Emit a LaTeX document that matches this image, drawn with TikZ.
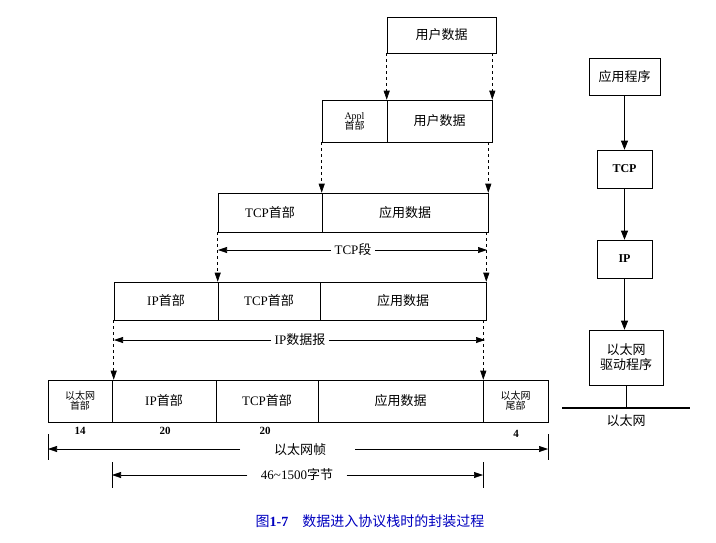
\documentclass[tikz,border=0pt]{standalone}
\usepackage{fontspec}
\setmainfont{Liberation Serif}
\newfontfamily\cjk{Noto Sans CJK SC}
\usetikzlibrary{arrows.meta}
\begin{document}
\begin{tikzpicture}[x=1pt,y=-1pt,
  bx/.style={draw,line width=0.6pt,inner sep=0pt,font=\fontsize{13}{15}\selectfont},
  sm/.style={font=\fontsize{10}{11}\selectfont,align=center},
  dsh/.style={dashed,line width=0.6pt,-{Triangle[length=9pt,width=6pt]}},
  dim/.style={line width=0.6pt,-{Triangle[length=9pt,width=6pt]}},
  ar/.style={line width=0.8pt,-{Triangle[length=9pt,width=7pt]}},
  lbl/.style={font=\fontsize{13}{15}\selectfont},
  num/.style={font=\bfseries\fontsize{11}{13}\selectfont}]
\useasboundingbox (0,0) rectangle (716,542);
% row1
\node[bx,minimum width=109,minimum height=36] (u1) at (441.5,35) {\cjk 用户数据};
% row2
\node[bx,minimum width=65,minimum height=42,sm] (ap) at (354.5,121) {Appl\\[-1pt]{\cjk 首部}};
\node[bx,minimum width=105,minimum height=42] (u2) at (439.5,121) {\cjk 用户数据};
% row3
\node[bx,minimum width=104,minimum height=39] (t3) at (270,212.5) {TCP{\cjk 首部}};
\node[bx,minimum width=166,minimum height=39] (d3) at (405,212.5) {\cjk 应用数据};
% row4
\node[bx,minimum width=104,minimum height=38] (i4) at (166,301) {IP{\cjk 首部}};
\node[bx,minimum width=102,minimum height=38] (t4) at (269,301) {TCP{\cjk 首部}};
\node[bx,minimum width=166,minimum height=38] (d4) at (403,301) {\cjk 应用数据};
% row5
\node[bx,minimum width=64,minimum height=42,sm] (e5) at (80,401) {\cjk 以太网\\[-1pt]\cjk 首部};
\node[bx,minimum width=104,minimum height=42] (i5) at (164,401) {IP{\cjk 首部}};
\node[bx,minimum width=102,minimum height=42] (t5) at (267,401) {TCP{\cjk 首部}};
\node[bx,minimum width=165,minimum height=42] (d5) at (400.5,401) {\cjk 应用数据};
\node[bx,minimum width=65,minimum height=42,sm] (f5) at (515.5,401) {\cjk 以太网\\[-1pt]\cjk 尾部};
% dashed
\draw[dsh] (u1.south west) -- (u1.south west |- ap.north);
\draw[dsh] (u2.south east |- u1.south) -- (u2.north east);
\draw[dsh] (ap.south west) -- (ap.south west |- t3.north);
\draw[dsh] (d3.north east |- u2.south) -- (d3.north east);
\draw[dsh] (t3.south west) -- (t3.south west |- i4.north);
\draw[dsh] (d4.north east |- d3.south) -- (d4.north east);
\draw[dsh] (i4.south west) -- (i4.south west |- e5.north);
\draw[dsh] (d5.north east |- d4.south) -- (d5.north east);
% TCP seg
\node[lbl] (ts) at (353,250) {TCP{\cjk 段}};
\coordinate (tsl) at (218,250); \coordinate (tsr) at (487,250);
\draw[dim] (ts.west) -- (tsl); \draw[dim] (ts.east) -- (tsr);
% IP datagram
\node[lbl] (ip) at (300,340) {IP{\cjk 数据报}};
\coordinate (ipl) at (114,340); \coordinate (ipr) at (485,340);
\draw[dim] (ip.west) -- (ipl); \draw[dim] (ip.east) -- (ipr);
% numbers
\node[num] (n1) at (80,431) {14};
\node[num] (n2) at (165,431) {20};
\node[num] (n3) at (265,431) {20};
\node[num] (n4) at (516,434) {4};
% frame
\draw[line width=0.6pt] (48,434) -- (48,460);
\draw[line width=0.6pt] (548,434) -- (548,460);
\node[lbl] (fr) at (300,450) {\cjk 以太网帧};
\coordinate (frl) at (48,449); \coordinate (frr) at (548,449);
\coordinate (fra) at (240,449); \coordinate (frb) at (355,449);
\draw[dim] (fra) -- (frl); \draw[dim] (frb) -- (frr);
\draw[line width=0.6pt] (112,462) -- (112,488);
\draw[line width=0.6pt] (483,462) -- (483,488);
\node[lbl] (by) at (297,475) {46\textasciitilde1500{\cjk 字节}};
\coordinate (byl) at (112,475); \coordinate (byr) at (483,475);
\draw[dim] (by.west) ++(-10,0) -- (byl); \draw[dim] (by.east) ++(10,0) -- (byr);
% right stack
\node[bx,minimum width=71,minimum height=37] (s1) at (624.5,76.5) {\cjk 应用程序};
\node[bx,minimum width=55,minimum height=38,font=\bfseries\fontsize{12}{14}\selectfont] (s2) at (624.5,169) {TCP};
\node[bx,minimum width=55,minimum height=38,font=\bfseries\fontsize{12}{14}\selectfont] (s3) at (624.5,259) {IP};
\node[bx,minimum width=74,minimum height=55,align=center] (s4) at (626,357.5) {\cjk 以太网\\\cjk 驱动程序};
\draw[ar] (s1) -- (s2); \draw[ar] (s2) -- (s3); \draw[ar] (s3.south) -- (s3.south |- s4.north);
\coordinate (el) at (562,408); \coordinate (er) at (690,408);
\draw[line width=2.5pt] (el) -- (er);
\coordinate (eb) at (s4.south |- el);
\draw[line width=0.6pt] (s4.south) -- (eb);
\node[lbl] (en) at (626,421) {\cjk 以太网};
\node[text=blue!75!black,font=\fontsize{14}{16}\selectfont] (cap) at (370,521) {{\cjk 图}\textbf{1-7}\quad{\cjk 数据进入协议栈时的封装过程}};
\end{tikzpicture}
\end{document}
